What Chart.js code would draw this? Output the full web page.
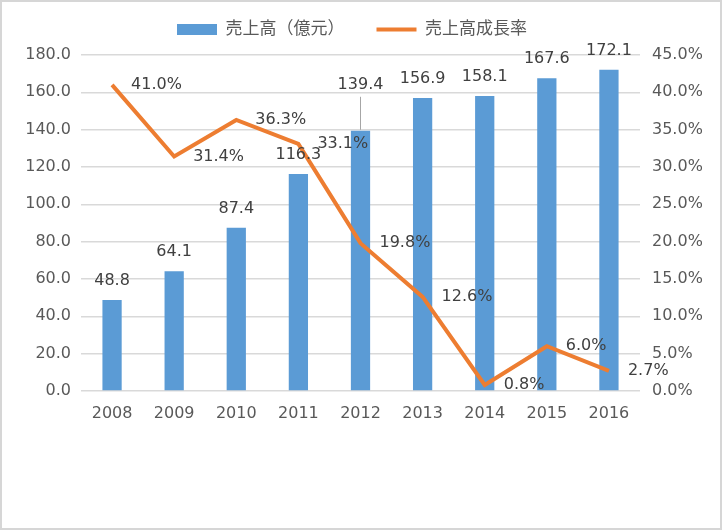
<!DOCTYPE html>
<html>
<head>
<meta charset="utf-8">
<script src="https://cdn.jsdelivr.net/npm/chart.js@4/dist/chart.umd.min.js"></script>
<style>
html, body { margin: 0; padding: 0; background: #fff; }
#frame { width: 722px; height: 530px; box-sizing: border-box; border: 2px solid #d6d6d6; position: relative; }
#frame canvas { display: block; }
</style>
</head>
<body>
<div id="frame"><canvas id="salesChart"></canvas></div>
<script>
const years = ['2008', '2009', '2010', '2011', '2012', '2013', '2014', '2015', '2016'];
const sales = [48.8, 64.1, 87.4, 116.3, 139.4, 156.9, 158.1, 167.6, 172.1];   // 売上高（億元）
const growth = [41.0, 31.4, 36.3, 33.1, 19.8, 12.6, 0.8, 6.0, 2.7];            // 売上高成長率 (%)
const salesAxis = [0, 180, 20];    // min, max, step
const growthAxis = [0, 45, 5];

const FONT = "'DejaVu Sans', 'Noto Sans CJK JP', sans-serif";
const BLUE = '#5B9BD5';
const ORANGE = '#ED7D31';
const GRID = '#d9d9d9';

// push the plot area down a bit below the legend
const legendSpacer = {
    id: 'legendSpacer',
    beforeInit(chart) {
        const fit = chart.legend.fit;
        chart.legend.fit = function () {
            fit.bind(chart.legend)();
            this.height = 66;
        };
    }
};

const valueLabels = {
    id: 'valueLabels',
    afterDatasetsDraw(chart) {
        const ctx = chart.ctx;
        ctx.save();
        ctx.font = '16px ' + FONT;
        ctx.fillStyle = '#404040';

        ctx.textAlign = 'center';
        ctx.textBaseline = 'alphabetic';
        chart.getDatasetMeta(0).data.forEach((bar, i) => {
            const lift = i === 4 ? 27 : 0; // 2012 label moved up, with a leader line
            const y = bar.y - 15 - lift;
            ctx.fillText(sales[i].toFixed(1), bar.x, y);
            if (lift) {
                ctx.strokeStyle = '#a6a6a6';
                ctx.lineWidth = 1;
                ctx.beginPath();
                ctx.moveTo(bar.x, y + 8);
                ctx.lineTo(bar.x, bar.y - 1);
                ctx.stroke();
            }
        });

        ctx.textAlign = 'left';
        ctx.textBaseline = 'middle';
        chart.getDatasetMeta(1).data.forEach((pt, i) => {
            ctx.fillText(growth[i].toFixed(1) + '%', pt.x + 19, pt.y);
        });
        ctx.restore();
    }
};

new Chart(document.getElementById('salesChart').getContext('2d'), {
    type: 'bar',
    data: {
        labels: years,
        datasets: [{
            label: '売上高（億元）',
            data: sales,
            backgroundColor: BLUE,
            borderWidth: 0,
            barPercentage: 0.31,
            categoryPercentage: 1,
            yAxisID: 'y',
            order: 1
        }, {
            type: 'line',
            label: '売上高成長率',
            data: growth,
            borderColor: ORANGE,
            backgroundColor: ORANGE,
            borderWidth: 4,
            pointRadius: 0,
            tension: 0,
            yAxisID: 'y1',
            order: 0
        }]
    },
    options: {
        responsive: true,
        maintainAspectRatio: false,
        animation: false,
        layout: { padding: { top: -13, right: 18, left: 0, bottom: 0 } },
        plugins: {
            tooltip: { enabled: false },
            legend: {
                position: 'top',
                labels: {
                    font: { family: FONT, size: 17 },
                    color: '#595959',
                    padding: 32,
                    usePointStyle: true,
                    pointStyleWidth: 40,
                    boxHeight: 11,
                    sort: (a, b) => a.datasetIndex - b.datasetIndex,
                    generateLabels(chart) {
                        const items = Chart.defaults.plugins.legend.labels.generateLabels(chart);
                        items.forEach(item => {
                            if (item.datasetIndex === 0) {
                                item.pointStyle = 'rect';
                                item.lineWidth = 0;
                            } else {
                                item.pointStyle = 'line';
                                item.strokeStyle = ORANGE;
                                item.lineWidth = 4;
                            }
                        });
                        return items;
                    }
                }
            }
        },
        scales: {
            x: {
                grid: { display: false, drawTicks: false },
                border: { display: false },
                ticks: { color: '#595959', font: { family: FONT, size: 16 }, padding: 13 },
                afterFit(scale) { scale.height = 137; }
            },
            y: {
                position: 'left',
                min: salesAxis[0],
                max: salesAxis[1],
                grid: { color: GRID, lineWidth: 1.5, drawTicks: false },
                border: { display: false },
                ticks: {
                    stepSize: salesAxis[2],
                    color: '#595959',
                    font: { family: FONT, size: 16 },
                    padding: 10,
                    callback: v => v.toFixed(1)
                },
                afterFit(scale) { scale.width = 79; }
            },
            y1: {
                position: 'right',
                min: growthAxis[0],
                max: growthAxis[1],
                grid: { display: false, drawTicks: false },
                border: { display: false },
                ticks: {
                    stepSize: growthAxis[2],
                    color: '#595959',
                    font: { family: FONT, size: 16 },
                    padding: 12,
                    callback: v => v.toFixed(1) + '%'
                },
                afterFit(scale) { scale.width = 62; }
            }
        }
    },
    plugins: [legendSpacer, valueLabels]
});
</script>
</body>
</html>
